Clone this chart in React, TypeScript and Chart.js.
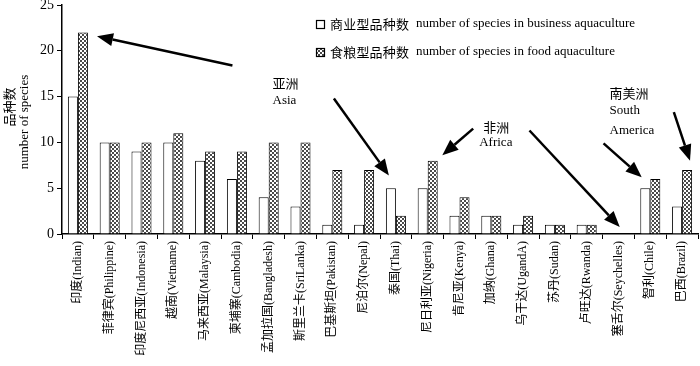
import React, { useEffect, useRef } from "react";
import { Chart, registerables } from "chart.js";

Chart.register(...registerables);

const categories = [
  "印度(Indian)",
  "菲律宾(Philippine)",
  "印度尼西亚(Indonesia)",
  "越南(Vietname)",
  "马来西亚(Malaysia)",
  "柬埔寨(Cambodia)",
  "孟加拉国(Bangladesh)",
  "斯里兰卡(SriLanka)",
  "巴基斯坦(Pakistan)",
  "尼泊尔(Nepal)",
  "泰国(Thai)",
  "尼日利亚(Nigeria)",
  "肯尼亚(Kenya)",
  "加纳(Ghana)",
  "乌干达(UgandA)",
  "苏丹(Sudan)",
  "卢旺达(Rwanda)",
  "塞舌尔(Seychelles)",
  "智利(Chile)",
  "巴西(Brazil)",
];

const businessSpecies = [15, 10, 9, 10, 8, 6, 4, 3, 1, 1, 5, 5, 2, 2, 1, 1, 1, 0, 5, 3];
const foodSpecies = [22, 10, 10, 11, 9, 9, 10, 10, 7, 7, 2, 8, 4, 2, 2, 1, 1, 0, 6, 7];

const yTickValues = [0, 5, 10, 15, 20, 25];

const legendZh = ["商业型品种数", "食粮型品种数"];
const legendEn = [
  "number of species in business aquaculture",
  "number of species in food aquaculture",
];

const yTitleZh = "品种数";
const yTitleEn = "number of species";

// Region annotations in data coordinates (category index, value); line offsets in px
const regionLabels = [
  { x: 6.12, y: 16.5, lines: [{ t: "亚洲", dx: 0, dy: 0 }, { t: "Asia", dx: 0, dy: 18 }] },
  { x: 12.62, y: 11.63, lines: [{ t: "非洲", dx: 4, dy: 0 }, { t: "Africa", dx: 0, dy: 15 }] },
  {
    x: 16.72,
    y: 15.43,
    lines: [
      { t: "南美洲", dx: 0, dy: 0 },
      { t: "South", dx: 0, dy: 18 },
      { t: "America", dx: 0, dy: 38 },
    ],
  },
];

const arrows = [
  { from: [4.86, 18.4], to: [0.6, 21.6] },
  { from: [8.05, 14.8], to: [9.78, 6.4] },
  { from: [12.43, 11.5], to: [11.46, 8.6] },
  { from: [14.2, 11.3], to: [17.04, 0.76] },
  { from: [16.53, 9.9], to: [17.73, 6.2] },
  { from: [18.74, 13.3], to: [19.25, 8.0] },
];

const SERIF = "'Liberation Serif', 'Noto Sans CJK SC', serif";
const CJK = "'Noto Sans CJK SC', 'Liberation Serif', serif";

function makePattern(): CanvasPattern | string {
  const c = document.createElement("canvas");
  c.width = 4;
  c.height = 4;
  const g = c.getContext("2d");
  if (!g) return "#888";
  g.fillStyle = "#ffffff";
  g.fillRect(0, 0, 4, 4);
  g.fillStyle = "#4a4a4a";
  g.fillRect(0, 0, 2, 2);
  g.fillRect(2, 2, 2, 2);
  const p = g.createPattern(c, "repeat");
  return p || "#888";
}

function drawArrow(ctx: CanvasRenderingContext2D, x1: number, y1: number, x2: number, y2: number) {
  const ang = Math.atan2(y2 - y1, x2 - x1);
  const headLen = 16;
  const headW = 6.5;
  const bx = x2 - headLen * Math.cos(ang);
  const by = y2 - headLen * Math.sin(ang);
  ctx.save();
  ctx.strokeStyle = "#000";
  ctx.fillStyle = "#000";
  ctx.lineWidth = 2.5;
  ctx.beginPath();
  ctx.moveTo(x1, y1);
  ctx.lineTo(bx, by);
  ctx.stroke();
  ctx.beginPath();
  ctx.moveTo(x2, y2);
  ctx.lineTo(bx + headW * Math.sin(ang), by - headW * Math.cos(ang));
  ctx.lineTo(bx - headW * Math.sin(ang), by + headW * Math.cos(ang));
  ctx.closePath();
  ctx.fill();
  ctx.restore();
}

function drawSpaced(ctx: CanvasRenderingContext2D, text: string, x: number, y: number, step: number) {
  let cx = x;
  for (const ch of text) {
    ctx.fillText(ch, cx, y);
    cx += step;
  }
}

export default function App() {
  const ref = useRef<HTMLCanvasElement | null>(null);

  useEffect(() => {
    document.body.style.margin = "0";
    const canvas = ref.current;
    if (!canvas) return;
    const pattern = makePattern();

    const overlay = {
      id: "overlay",
      afterDraw(chart: any) {
        const ctx: CanvasRenderingContext2D = chart.ctx;
        const xs = chart.scales.x;
        const ys = chart.scales.y;
        ctx.save();
        ctx.fillStyle = "#000";
        ctx.textBaseline = "middle";

        // y-axis title
        ctx.save();
        ctx.translate(9, 107);
        ctx.rotate(-Math.PI / 2);
        ctx.textAlign = "center";
        ctx.font = `13px ${CJK}`;
        ctx.fillText(yTitleZh, 0, 0);
        ctx.restore();
        ctx.save();
        ctx.translate(25, 122);
        ctx.rotate(-Math.PI / 2);
        ctx.textAlign = "center";
        ctx.font = `13px ${SERIF}`;
        ctx.fillText(yTitleEn, 0, 0);
        ctx.restore();

        // legend
        const legX = 316;
        const rowY = [24, 52];
        for (let i = 0; i < 2; i++) {
          const y = rowY[i];
          ctx.fillStyle = i === 0 ? "#fff" : (pattern as any);
          ctx.fillRect(legX, y - 4, 8, 8);
          ctx.strokeStyle = "#000";
          ctx.lineWidth = 1.2;
          ctx.strokeRect(legX + 0.5, y - 4 + 0.5, 8, 8);
          ctx.fillStyle = "#000";
          ctx.textAlign = "left";
          ctx.font = `13px ${CJK}`;
          drawSpaced(ctx, legendZh[i], 330, y, 13.2);
          ctx.font = `13px ${SERIF}`;
          ctx.fillText(legendEn[i], 416, y);
        }

        // region labels
        ctx.textAlign = "left";
        for (const r of regionLabels) {
          const px = xs.getPixelForValue(r.x);
          const py = ys.getPixelForValue(r.y);
          for (const line of r.lines) {
            const isZh = /[\u4e00-\u9fff]/.test(line.t);
            ctx.font = isZh ? `13px ${CJK}` : `13px ${SERIF}`;
            ctx.fillText(line.t, px + line.dx, py + line.dy);
          }
        }

        // arrows
        for (const a of arrows) {
          drawArrow(
            ctx,
            xs.getPixelForValue(a.from[0]),
            ys.getPixelForValue(a.from[1]),
            xs.getPixelForValue(a.to[0]),
            ys.getPixelForValue(a.to[1])
          );
        }
        ctx.restore();
      },
    };

    const chart = new Chart(canvas, {
      type: "bar",
      data: {
        labels: categories,
        datasets: [
          {
            label: legendEn[0],
            data: businessSpecies,
            backgroundColor: "#ffffff",
            borderColor: "#000000",
            borderWidth: 1,
            categoryPercentage: 0.63,
            barPercentage: 1,
          },
          {
            label: legendEn[1],
            data: foodSpecies,
            backgroundColor: pattern as any,
            borderColor: "#000000",
            borderWidth: 1,
            categoryPercentage: 0.63,
            barPercentage: 1,
          },
        ],
      },
      options: {
        responsive: false,
        animation: false,
        layout: { padding: { top: 5, right: 2, left: 0, bottom: 0 } },
        plugins: {
          legend: { display: false },
          tooltip: { enabled: false },
        },
        scales: {
          x: {
            grid: {
              display: true,
              drawOnChartArea: false,
              drawTicks: true,
              tickLength: 5,
              color: "#000",
              lineWidth: 1,
              offset: true,
            },
            border: { display: true, color: "#000", width: 1.5 },
            ticks: {
              autoSkip: false,
              minRotation: 90,
              maxRotation: 90,
              color: "#000",
              padding: 2,
              font: { family: SERIF, size: 12 },
            },
            afterFit(scale: any) {
              scale.height = 132;
              scale.paddingLeft = 0;
              scale.paddingRight = 0;
            },
          },
          y: {
            min: 0,
            max: 25,
            afterBuildTicks(scale: any) {
              scale.ticks = yTickValues.map((v) => ({ value: v }));
            },
            grid: {
              display: true,
              drawOnChartArea: false,
              drawTicks: true,
              tickLength: 5,
              color: "#000",
            },
            border: { display: true, color: "#000", width: 1.5 },
            ticks: {
              color: "#000",
              padding: 3,
              font: { family: SERIF, size: 14 },
            },
            afterFit(scale: any) {
              scale.width = 62;
              scale.paddingTop = 0;
              scale.paddingBottom = 0;
            },
          },
        },
      },
      plugins: [overlay],
    });

    return () => {
      chart.destroy();
    };
  }, []);

  return (
    <div style={{ width: 700, height: 366, background: "#fff" }}>
      <canvas ref={ref} width={700} height={366} style={{ display: "block" }} />
    </div>
  );
}
